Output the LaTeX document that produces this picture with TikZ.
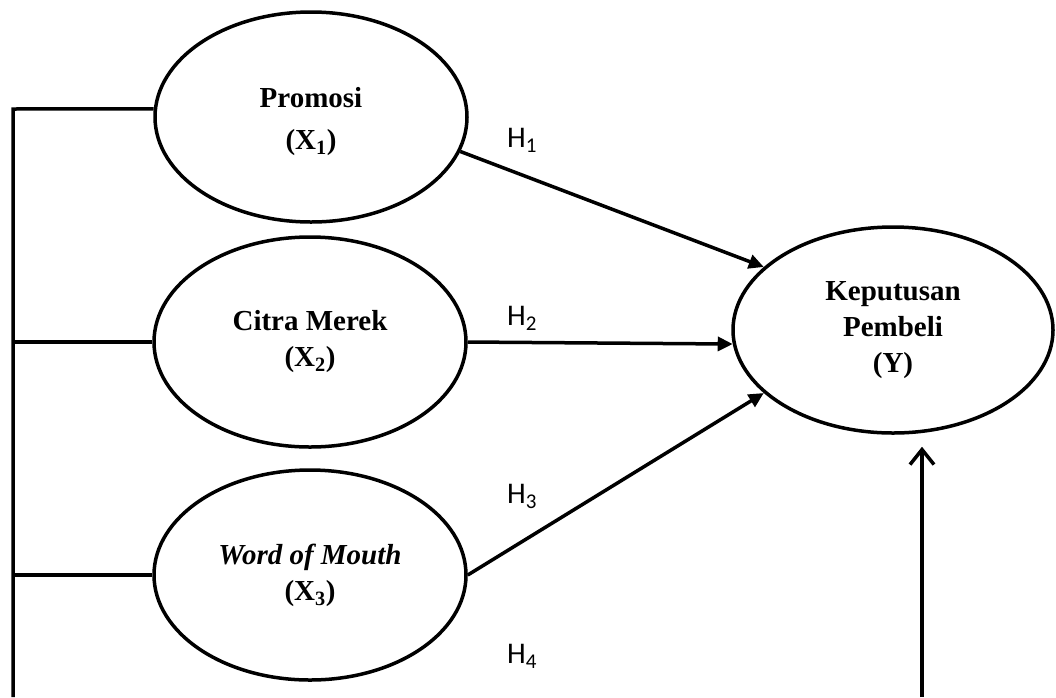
\documentclass[tikz,border=0pt]{standalone}
\usepackage{fontspec}
\setmainfont{Liberation Serif}
\newfontfamily\hypfont{Carlito}
\usetikzlibrary{shapes.geometric,arrows.meta}

\begin{document}
\begin{tikzpicture}[
	x=1pt, y=-1pt,
	base/.style={draw, ellipse, line width=3.5pt, inner sep=0pt, align=center, font=\fontsize{29}{36}\selectfont\bfseries},
	variable-x/.style={base, minimum width=312pt, minimum height=210pt},
	variable-y/.style={base, minimum width=320pt, minimum height=206pt},
	path-line/.style={line width=3.5pt},
	path-arrow/.style={path-line, -{Triangle[length=15pt,width=14pt]}},
	path-open/.style={line width=3.5pt, -{Straight Barb[length=15pt,width=24pt]}},
	hyp-label/.style={font=\hypfont\fontsize{30}{34}\selectfont},
	]

	\useasboundingbox (0,0) rectangle (1056,697);

	% latent variables
	\node [variable-x] (promosi)   at (311,117) {\rule{0pt}{30pt}Promosi\\[6pt](X\textsubscript{1})};
	\node [variable-x] (citra)     at (310,342) {Citra Merek\\(X\textsubscript{2})};
	\node [variable-x] (wom)       at (310,575) {\textit{Word of Mouth}\\(X\textsubscript{3})};
	\node [variable-y] (keputusan) at (893,330) {Keputusan\\Pembeli\\(Y)};

	\node [hyp-label] (h1) at (522,140) {H\textsubscript{1}};
	\node [hyp-label] (h2) at (522,318) {H\textsubscript{2}};
	\node [hyp-label] (h3) at (522,496) {H\textsubscript{3}};
	\node [hyp-label] (h4) at (522,656) {H\textsubscript{4}};

	\coordinate (rail-top)    at (13,109);
	\coordinate (rail-bottom) at (13,697);
	\coordinate (feed)        at (922,697);

	% left rail
	\draw [path-line] (promosi.177) -- (rail-top) -- (rail-bottom);
	\draw [path-line] (citra.west) -- (citra.west -| rail-top);
	\draw [path-line] (wom.west) -- (wom.west -| rail-top);

	% hypotheses
	\draw [path-arrow] (promosi.-13) -- (keputusan.154);
	\draw [path-arrow] (citra.east) -- (keputusan.185);
	\draw [path-arrow] (wom.east) -- (keputusan.206);
	\draw [path-open, shorten >=12pt] (feed) -- (feed |- keputusan.south);

\end{tikzpicture}
\end{document}
